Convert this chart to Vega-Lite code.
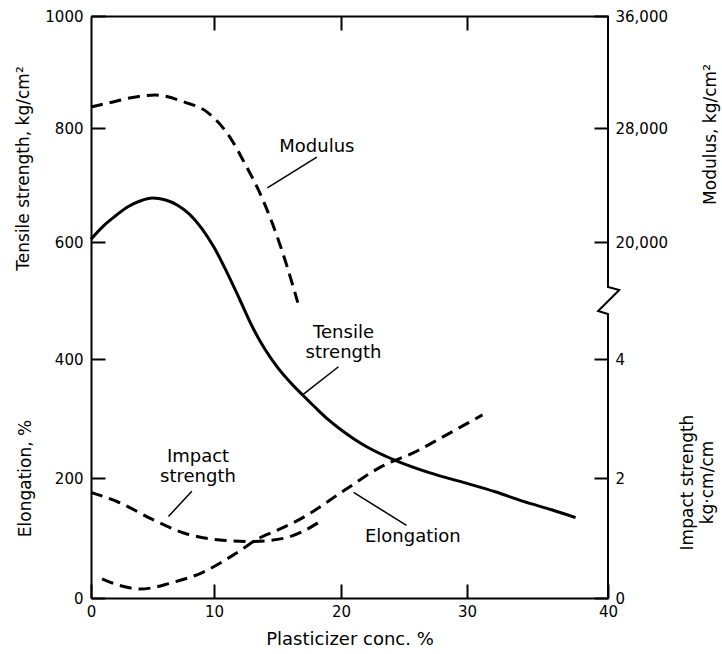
{
  "$schema": "https://vega.github.io/schema/vega-lite/v6.json",
  "width": 517,
  "height": 582,
  "autosize": {"type": "none"},
  "padding": {"left": 91, "top": 16, "right": 114, "bottom": 56},
  "background": "white",
  "config": {
    "view": {"stroke": null},
    "font": "DejaVu Sans",
    "axis": {
      "grid": false,
      "labelFont": "DejaVu Sans",
      "titleFont": "DejaVu Sans",
      "labelColor": "black",
      "titleColor": "black",
      "domainColor": "black",
      "tickColor": "black",
      "labelFontSize": 15,
      "titleFontSize": 17,
      "titleFontWeight": "normal",
      "domainWidth": 2,
      "tickWidth": 2,
      "tickSize": -14,
      "labelFlush": false,
      "labelOverlap": false
    }
  },
  "datasets": {
    "tensile": [
      {"conc": 0, "ts": 605}, {"conc": 1, "ts": 628}, {"conc": 2, "ts": 646}, {"conc": 3, "ts": 662},
      {"conc": 4, "ts": 672}, {"conc": 5, "ts": 677}, {"conc": 6, "ts": 674}, {"conc": 7, "ts": 665},
      {"conc": 8, "ts": 649}, {"conc": 9, "ts": 624}, {"conc": 10, "ts": 591}, {"conc": 11, "ts": 549},
      {"conc": 12, "ts": 503}, {"conc": 13, "ts": 456}, {"conc": 14, "ts": 417}, {"conc": 15, "ts": 386},
      {"conc": 16, "ts": 361}, {"conc": 17, "ts": 339}, {"conc": 18, "ts": 318}, {"conc": 19, "ts": 298},
      {"conc": 20, "ts": 281}, {"conc": 21, "ts": 266}, {"conc": 22, "ts": 253}, {"conc": 23, "ts": 242},
      {"conc": 24.5, "ts": 228}, {"conc": 27, "ts": 209}, {"conc": 30, "ts": 191}, {"conc": 32, "ts": 177},
      {"conc": 34, "ts": 161}, {"conc": 36, "ts": 147}, {"conc": 37.7, "ts": 134}
    ],
    "elongation": [
      {"conc": 0.9, "el": 32}, {"conc": 2.5, "el": 20}, {"conc": 4, "el": 15}, {"conc": 5, "el": 17},
      {"conc": 6.3, "el": 24}, {"conc": 9, "el": 42}, {"conc": 11.7, "el": 74}, {"conc": 13.5, "el": 99},
      {"conc": 15, "el": 113}, {"conc": 17, "el": 134}, {"conc": 20.3, "el": 180}, {"conc": 23.2, "el": 219},
      {"conc": 26, "el": 245}, {"conc": 27.9, "el": 267}, {"conc": 31.1, "el": 306}
    ],
    "modulus": [
      {"conc": 0, "mod": 29500}, {"conc": 1.5, "mod": 29800}, {"conc": 3.5, "mod": 30200},
      {"conc": 5.2, "mod": 30350}, {"conc": 7.6, "mod": 29850}, {"conc": 9.5, "mod": 29100},
      {"conc": 11.4, "mod": 27150}, {"conc": 12.4, "mod": 25550}, {"conc": 13.5, "mod": 23650},
      {"conc": 14.6, "mod": 21300}, {"conc": 15.6, "mod": 18750}, {"conc": 16.6, "mod": 15850}
    ],
    "impact": [
      {"conc": 0, "imp": 1.76}, {"conc": 2.2, "imp": 1.6}, {"conc": 5, "imp": 1.31}, {"conc": 7.6, "imp": 1.08},
      {"conc": 10.3, "imp": 0.97}, {"conc": 13, "imp": 0.94}, {"conc": 15.6, "imp": 1.0},
      {"conc": 17, "imp": 1.11}, {"conc": 18.6, "imp": 1.31}
    ],
    "rightEdge": [
      {"step": 1, "conc": 40, "level": 1000}, {"step": 2, "conc": 40, "level": 523},
      {"step": 3, "conc": 40.8, "level": 518}, {"step": 4, "conc": 39.3, "level": 482},
      {"step": 5, "conc": 40, "level": 477}, {"step": 6, "conc": 40, "level": 0}
    ],
    "leaders": [
      {"id": "modulus", "conc": 18.1, "level": 749}, {"id": "modulus", "conc": 14.2, "level": 695},
      {"id": "tensile", "conc": 19.8, "level": 387}, {"id": "tensile", "conc": 17.0, "level": 340},
      {"id": "impact", "conc": 8.2, "level": 178}, {"id": "impact", "conc": 6.3, "level": 136},
      {"id": "elongation", "conc": 25.2, "level": 121}, {"id": "elongation", "conc": 21.0, "level": 176}
    ],
    "labels": [
      {"text": "Modulus", "conc": 18.1, "level": 767},
      {"text": "Tensile\nstrength", "conc": 20.2, "level": 444},
      {"text": "Impact\nstrength", "conc": 8.7, "level": 235},
      {"text": "Elongation", "conc": 25.7, "level": 101}
    ]
  },
  "layer": [
    {
      "data": {"name": "tensile"},
      "mark": {"type": "line", "color": "black", "strokeWidth": 3, "interpolate": "monotone"},
      "encoding": {
        "x": {
          "field": "conc", "type": "quantitative",
          "scale": {"domain": [0, 10, 20, 30, 40], "range": [0, 123, 250, 376, 517]},
          "axis": {"orient": "bottom", "values": [0, 10, 20, 30, 40], "labelPadding": 20,
                   "title": "Plasticizer conc. %", "titleFontSize": 18, "titlePadding": 11}
        },
        "y": {
          "field": "ts", "type": "quantitative",
          "scale": {"domain": [0, 200, 400, 600, 800, 1000], "range": [582, 462, 343, 226, 112, 0]},
          "axis": {"orient": "left", "values": [0, 200, 400, 600, 800, 1000], "format": "d",
                   "labelPadding": 22, "title": "Tensile strength, kg/cm²",
                   "titleAngle": 270, "titleX": -68, "titleY": 152,
                   "titleAlign": "center", "titleBaseline": "middle"}
        }
      }
    },
    {
      "data": {"name": "elongation"},
      "mark": {"type": "line", "color": "black", "strokeWidth": 3, "strokeDash": [12, 7], "interpolate": "monotone"},
      "encoding": {
        "x": {
          "field": "conc", "type": "quantitative",
          "scale": {"domain": [0, 10, 20, 30, 40], "range": [0, 123, 250, 376, 517]},
          "axis": {"orient": "top", "values": [10, 20, 30], "labels": false, "title": null}
        },
        "y": {
          "field": "el", "type": "quantitative",
          "scale": {"domain": [0, 200, 400, 600, 800, 1000], "range": [582, 462, 343, 226, 112, 0]},
          "axis": {"orient": "left", "labels": false, "ticks": false, "domain": false,
                   "title": "Elongation, %", "titleAngle": 270, "titleX": -66, "titleY": 462,
                   "titleAlign": "center", "titleBaseline": "middle"}
        }
      }
    },
    {
      "data": {"name": "modulus"},
      "mark": {"type": "line", "color": "black", "strokeWidth": 3, "strokeDash": [12, 7], "interpolate": "monotone"},
      "encoding": {
        "x": {
          "field": "conc", "type": "quantitative",
          "scale": {"domain": [0, 10, 20, 30, 40], "range": [0, 123, 250, 376, 517]},
          "axis": null
        },
        "y": {
          "field": "mod", "type": "quantitative",
          "scale": {"domain": [-4000, 4000, 12000, 20000, 28000, 36000], "range": [582, 462, 343, 226, 112, 0]},
          "axis": {"orient": "right", "values": [20000, 28000, 36000], "format": ",d",
                   "domain": false, "labelPadding": 21, "title": "Modulus, kg/cm²",
                   "titleAngle": 270, "titleX": 102, "titleY": 118,
                   "titleAlign": "center", "titleBaseline": "middle"}
        }
      }
    },
    {
      "data": {"name": "impact"},
      "mark": {"type": "line", "color": "black", "strokeWidth": 3, "strokeDash": [12, 7], "interpolate": "monotone"},
      "encoding": {
        "x": {
          "field": "conc", "type": "quantitative",
          "scale": {"domain": [0, 10, 20, 30, 40], "range": [0, 123, 250, 376, 517]},
          "axis": null
        },
        "y": {
          "field": "imp", "type": "quantitative",
          "scale": {"domain": [0, 2, 4, 6, 8, 10], "range": [582, 462, 343, 226, 112, 0]},
          "axis": {"orient": "right", "values": [0, 2, 4], "format": "d",
                   "domain": false, "labelPadding": 21, "title": ["Impact strength", "kg·cm/cm"],
                   "titleAngle": 270, "titleX": 79, "titleY": 466, "titleLineHeight": 20,
                   "titleAlign": "center", "titleBaseline": "middle"}
        }
      }
    },
    {
      "data": {"name": "rightEdge"},
      "mark": {"type": "line", "color": "black", "strokeWidth": 2},
      "encoding": {
        "x": {
          "field": "conc", "type": "quantitative",
          "scale": {"domain": [0, 10, 20, 30, 40], "range": [0, 123, 250, 376, 517]},
          "axis": null
        },
        "y": {
          "field": "level", "type": "quantitative",
          "scale": {"domain": [0, 200, 400, 600, 800, 1000], "range": [582, 462, 343, 226, 112, 0]},
          "axis": null
        },
        "order": {"field": "step"}
      }
    },
    {
      "data": {"name": "leaders"},
      "mark": {"type": "line", "color": "black", "strokeWidth": 1.5},
      "encoding": {
        "x": {
          "field": "conc", "type": "quantitative",
          "scale": {"domain": [0, 10, 20, 30, 40], "range": [0, 123, 250, 376, 517]},
          "axis": null
        },
        "y": {
          "field": "level", "type": "quantitative",
          "scale": {"domain": [0, 200, 400, 600, 800, 1000], "range": [582, 462, 343, 226, 112, 0]},
          "axis": null
        },
        "detail": {"field": "id"}
      }
    },
    {
      "data": {"name": "labels"},
      "mark": {"type": "text", "font": "DejaVu Sans", "fontSize": 18, "color": "black",
               "align": "center", "baseline": "middle", "lineBreak": "\n", "lineHeight": 20},
      "encoding": {
        "x": {
          "field": "conc", "type": "quantitative",
          "scale": {"domain": [0, 10, 20, 30, 40], "range": [0, 123, 250, 376, 517]},
          "axis": null
        },
        "y": {
          "field": "level", "type": "quantitative",
          "scale": {"domain": [0, 200, 400, 600, 800, 1000], "range": [582, 462, 343, 226, 112, 0]},
          "axis": null
        },
        "text": {"field": "text"}
      }
    }
  ],
  "resolve": {
    "scale": {"y": "independent"},
    "axis": {"x": "independent", "y": "independent"}
  }
}
